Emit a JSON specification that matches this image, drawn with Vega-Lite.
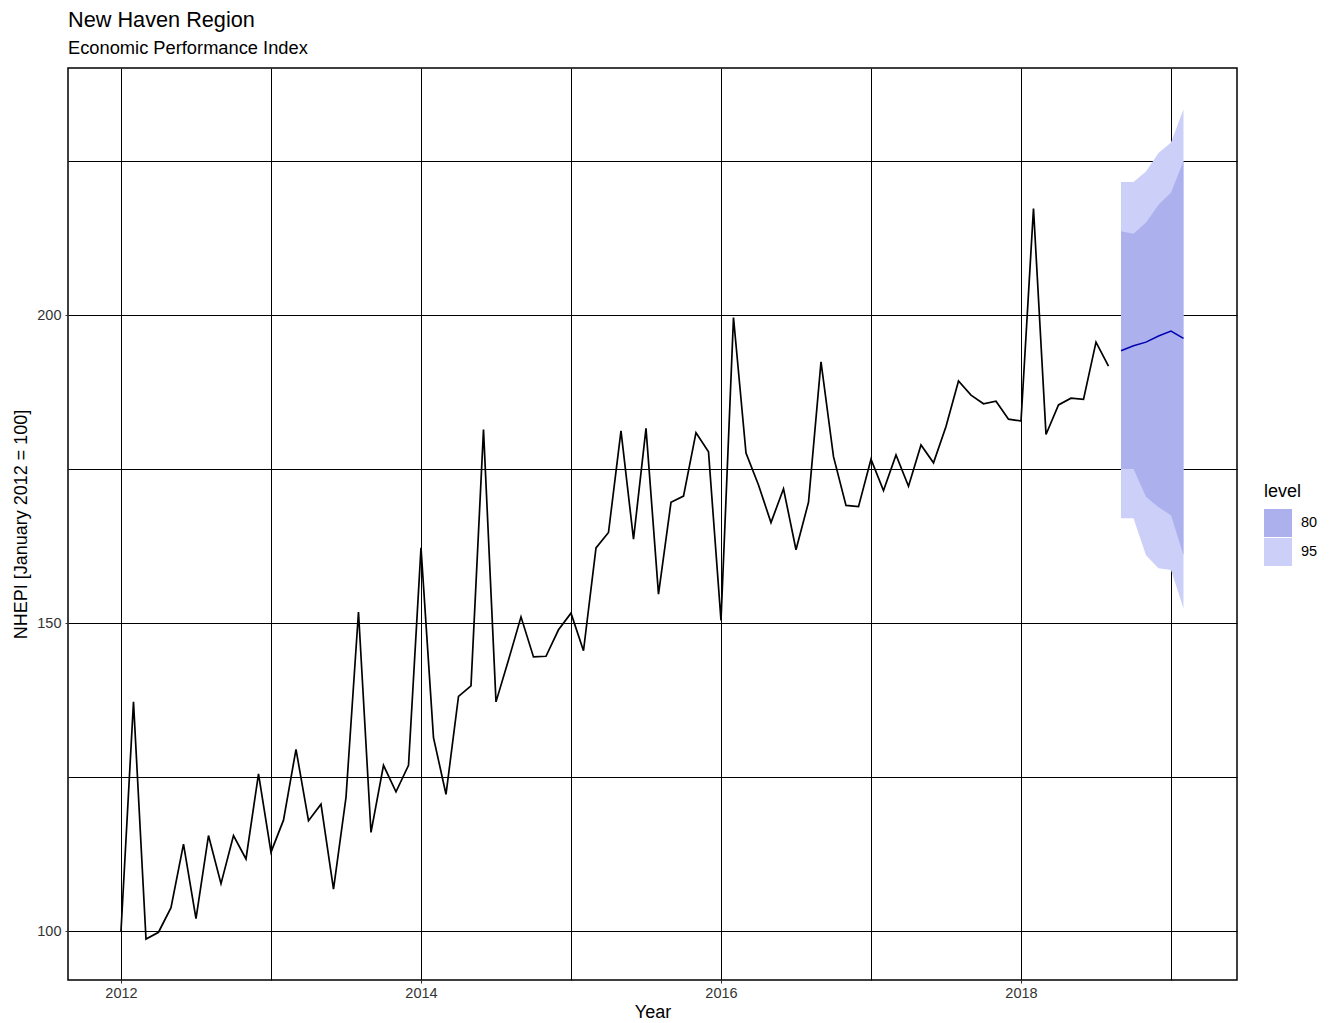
{
  "$schema": "https://vega.github.io/schema/vega-lite/v6.json",
  "width": 1169,
  "height": 912,
  "autosize": {"type": "none"},
  "padding": {"left": 68, "top": 68, "right": 93, "bottom": 43},
  "background": "white",
  "title": {
    "text": "New Haven Region",
    "subtitle": "Economic Performance Index",
    "anchor": "start",
    "frame": "group",
    "font": "Liberation Sans",
    "subtitleFont": "Liberation Sans",
    "fontSize": 21.7,
    "subtitleFontSize": 18.3,
    "fontWeight": "normal",
    "color": "black",
    "subtitleColor": "black",
    "subtitlePadding": 8,
    "offset": 11
  },
  "config": {
    "view": {"stroke": "black", "strokeWidth": 1.5},
    "font": "Liberation Sans",
    "axis": {
      "domain": false,
      "grid": true,
      "gridColor": "black",
      "gridWidth": 1,
      "gridOpacity": 1,
      "tickSize": 3,
      "tickColor": "#333333",
      "labelFontSize": 14.5,
      "labelColor": "#333333",
      "labelFont": "Liberation Sans",
      "titleFont": "Liberation Sans",
      "titleFontSize": 18,
      "titleFontWeight": "normal",
      "titleColor": "black"
    }
  },
  "datasets": {
    "hist": [
      {"t": 2012.0, "v": 100.0}, {"t": 2012.0833, "v": 137.2}, {"t": 2012.1667, "v": 98.7}, {"t": 2012.25, "v": 99.8},
      {"t": 2012.3333, "v": 103.8}, {"t": 2012.4167, "v": 114.1}, {"t": 2012.5, "v": 102.0}, {"t": 2012.5833, "v": 115.5},
      {"t": 2012.6667, "v": 107.7}, {"t": 2012.75, "v": 115.5}, {"t": 2012.8333, "v": 111.7}, {"t": 2012.9167, "v": 125.5},
      {"t": 2013.0, "v": 112.8}, {"t": 2013.0833, "v": 118.0}, {"t": 2013.1667, "v": 129.5}, {"t": 2013.25, "v": 117.9},
      {"t": 2013.3333, "v": 120.6}, {"t": 2013.4167, "v": 106.8}, {"t": 2013.5, "v": 121.7}, {"t": 2013.5833, "v": 151.8},
      {"t": 2013.6667, "v": 116.0}, {"t": 2013.75, "v": 126.9}, {"t": 2013.8333, "v": 122.6}, {"t": 2013.9167, "v": 126.9},
      {"t": 2014.0, "v": 162.2}, {"t": 2014.0833, "v": 131.4}, {"t": 2014.1667, "v": 122.2}, {"t": 2014.25, "v": 138.1},
      {"t": 2014.3333, "v": 139.8}, {"t": 2014.4167, "v": 181.4}, {"t": 2014.5, "v": 137.2}, {"t": 2014.5833, "v": 144.0},
      {"t": 2014.6667, "v": 151.0}, {"t": 2014.75, "v": 144.5}, {"t": 2014.8333, "v": 144.6}, {"t": 2014.9167, "v": 148.9},
      {"t": 2015.0, "v": 151.6}, {"t": 2015.0833, "v": 145.5}, {"t": 2015.1667, "v": 162.2}, {"t": 2015.25, "v": 164.7},
      {"t": 2015.3333, "v": 181.2}, {"t": 2015.4167, "v": 163.6}, {"t": 2015.5, "v": 181.6}, {"t": 2015.5833, "v": 154.7},
      {"t": 2015.6667, "v": 169.6}, {"t": 2015.75, "v": 170.6}, {"t": 2015.8333, "v": 180.9}, {"t": 2015.9167, "v": 177.8},
      {"t": 2016.0, "v": 150.4}, {"t": 2016.0833, "v": 199.6}, {"t": 2016.1667, "v": 177.6}, {"t": 2016.25, "v": 172.4},
      {"t": 2016.3333, "v": 166.3}, {"t": 2016.4167, "v": 171.8}, {"t": 2016.5, "v": 161.9}, {"t": 2016.5833, "v": 169.6},
      {"t": 2016.6667, "v": 192.4}, {"t": 2016.75, "v": 177.0}, {"t": 2016.8333, "v": 169.1}, {"t": 2016.9167, "v": 168.9},
      {"t": 2017.0, "v": 176.6}, {"t": 2017.0833, "v": 171.5}, {"t": 2017.1667, "v": 177.3}, {"t": 2017.25, "v": 172.2},
      {"t": 2017.3333, "v": 178.9}, {"t": 2017.4167, "v": 176.0}, {"t": 2017.5, "v": 181.9}, {"t": 2017.5833, "v": 189.3},
      {"t": 2017.6667, "v": 187.0}, {"t": 2017.75, "v": 185.6}, {"t": 2017.8333, "v": 186.0}, {"t": 2017.9167, "v": 183.1},
      {"t": 2018.0, "v": 182.8}, {"t": 2018.0833, "v": 217.3}, {"t": 2018.1667, "v": 180.6}, {"t": 2018.25, "v": 185.4},
      {"t": 2018.3333, "v": 186.5}, {"t": 2018.4167, "v": 186.3}, {"t": 2018.5, "v": 195.6}, {"t": 2018.5833, "v": 191.7}
    ],
    "fc": [
      {"t": 2018.6667, "mean": 194.2}, {"t": 2018.75, "mean": 195.0}, {"t": 2018.8333, "mean": 195.6},
      {"t": 2018.9167, "mean": 196.6}, {"t": 2019.0, "mean": 197.4}, {"t": 2019.0833, "mean": 196.2}
    ],
    "band": [
      {"t": 2018.6667, "level": "80", "lo": 175.0, "hi": 213.6},
      {"t": 2018.75, "level": "80", "lo": 175.0, "hi": 213.2},
      {"t": 2018.8333, "level": "80", "lo": 170.5, "hi": 215.0},
      {"t": 2018.9167, "level": "80", "lo": 168.8, "hi": 217.9},
      {"t": 2019.0, "level": "80", "lo": 167.5, "hi": 219.9},
      {"t": 2019.0833, "level": "80", "lo": 161.0, "hi": 225.0},
      {"t": 2018.6667, "level": "95", "lo": 167.0, "hi": 221.6},
      {"t": 2018.75, "level": "95", "lo": 167.0, "hi": 221.6},
      {"t": 2018.8333, "level": "95", "lo": 161.0, "hi": 223.3},
      {"t": 2018.9167, "level": "95", "lo": 158.9, "hi": 226.3},
      {"t": 2019.0, "level": "95", "lo": 158.6, "hi": 228.0},
      {"t": 2019.0833, "level": "95", "lo": 152.4, "hi": 233.4}
    ]
  },
  "encoding": {
    "x": {
      "field": "t",
      "type": "quantitative",
      "title": "Year",
      "scale": {"domain": [2011.6467, 2019.44], "nice": false, "zero": false},
      "axis": {
        "values": [2012, 2013, 2014, 2015, 2016, 2017, 2018, 2019],
        "format": "d",
        "labelExpr": "datum.value % 2 == 0 ? datum.label : ''",
        "tickOpacity": {"condition": {"test": "datum.value % 2 == 0", "value": 1}, "value": 0},
        "labelFontSize": 14.5,
        "titleFontSize": 18,
        "labelPadding": 3,
        "titlePadding": 4
      }
    }
  },
  "layer": [
    {
      "data": {"name": "band"},
      "transform": [{"filter": "datum.level == '95'"}],
      "mark": {"type": "area", "opacity": 1},
      "encoding": {
        "y": {
          "field": "lo",
          "type": "quantitative",
          "title": "NHEPI [January 2012 = 100]",
          "scale": {"domain": [92.05, 240.1], "nice": false, "zero": false},
          "axis": {
            "values": [100, 125, 150, 175, 200, 225],
            "format": "d",
            "labelExpr": "datum.value % 50 == 0 ? datum.label : ''",
            "tickOpacity": {"condition": {"test": "datum.value % 50 == 0", "value": 1}, "value": 0},
            "labelFontSize": 14.5,
            "titleFontSize": 18,
            "labelPadding": 4,
            "titlePadding": 6
          }
        },
        "y2": {"field": "hi"},
        "color": {
          "field": "level",
          "type": "nominal",
          "scale": {"domain": ["80", "95"], "range": ["#ACB1EE", "#CCD0F9"]},
          "legend": {
            "title": "level",
            "orient": "none",
            "legendX": 1196,
            "legendY": 415,
            "symbolType": "square",
            "symbolSize": 784,
            "symbolStrokeWidth": 0,
            "symbolOpacity": 1,
            "titleFontSize": 18,
            "titleFontWeight": "normal",
            "titleColor": "black",
            "titleFont": "Liberation Sans",
            "titlePadding": 8,
            "labelFontSize": 14.5,
            "labelColor": "black",
            "labelFont": "Liberation Sans",
            "labelOffset": 9,
            "rowPadding": 1
          }
        }
      }
    },
    {
      "data": {"name": "band"},
      "transform": [{"filter": "datum.level == '80'"}],
      "mark": {"type": "area", "opacity": 1},
      "encoding": {
        "y": {"field": "lo", "type": "quantitative"},
        "y2": {"field": "hi"},
        "color": {"field": "level", "type": "nominal"}
      }
    },
    {
      "data": {"name": "hist"},
      "mark": {"type": "line", "color": "black", "strokeWidth": 1.7},
      "encoding": {
        "y": {"field": "v", "type": "quantitative"}
      }
    },
    {
      "data": {"name": "fc"},
      "mark": {"type": "line", "color": "#0000B0", "strokeWidth": 1.5},
      "encoding": {
        "y": {"field": "mean", "type": "quantitative"}
      }
    }
  ]
}
